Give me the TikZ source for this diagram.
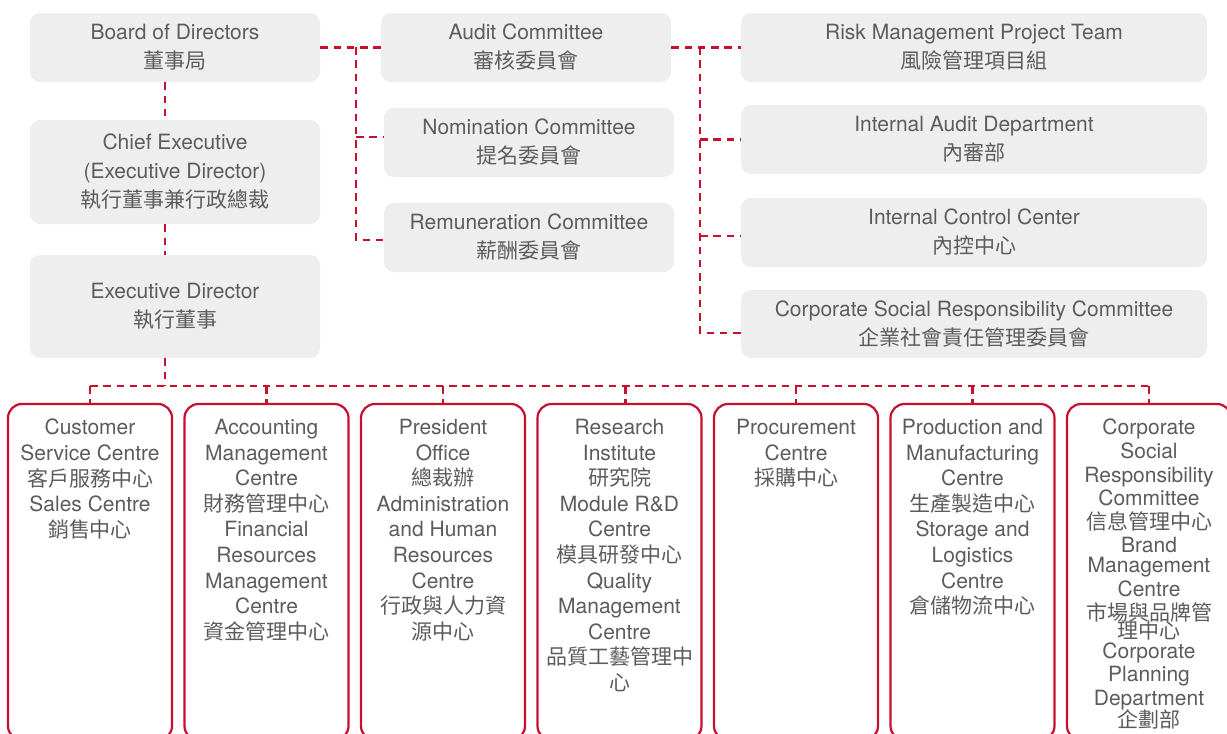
\documentclass[tikz,border=0pt]{standalone}
\usepackage{fontspec}
\setmainfont{TeX Gyre Heros}
\newfontfamily\cjk{Noto Sans CJK TC}
\newcommand\zht[1]{{\cjk #1}}
\definecolor{cred}{RGB}{200,16,46}
\definecolor{boxgray}{RGB}{238,238,238}
\definecolor{txtgray}{RGB}{92,92,92}
\tikzset{
  gbox/.style={rounded corners=10pt, fill=boxgray, draw=none, text=txtgray, align=center,
    inner sep=0pt, font=\fontsize{21}{29}\selectfont},
  rbox/.style={rounded corners=14pt, draw=cred, line width=2.2pt, fill=white,
    minimum width=164pt, minimum height=336pt, inner sep=0pt},
  btext/.style={anchor=north, text=txtgray, align=center, inner sep=0pt,
    font=\fontsize{21}{25.6}\selectfont},
  conn/.style={draw=cred, line width=2.7pt, dash pattern=on 7.5pt off 5.8pt}
}
\begin{document}
\begin{tikzpicture}[x=1pt,y=-1pt]
\useasboundingbox (0,0) rectangle (1227,734);
\fill[white] (0,0) rectangle (1227,734);

% left column
\node[gbox, minimum width=290pt, minimum height=69pt] (b) at (175,47.5) {\rule{0pt}{3pt}Board of Directors\\\zht{董事局}};
\node[gbox, minimum width=290pt, minimum height=104pt] (ce) at (175,172) {Chief Executive\\(Executive Director)\\\zht{執行董事兼行政總裁}};
\node[gbox, minimum width=290pt, minimum height=103pt] (ed) at (175,306.5) {Executive Director\\\zht{執行董事}};

% committees
\node[gbox, minimum width=290pt, minimum height=69pt] (ac) at (526,47.5) {Audit Committee\\\zht{審核委員會}};
\node[gbox, minimum width=290pt, minimum height=69pt] (nc) at (529,142.5) {Nomination Committee\\\zht{提名委員會}};
\node[gbox, minimum width=290pt, minimum height=69pt] (rc) at (529,237.5) {Remuneration Committee\\\zht{薪酬委員會}};

% right column
\node[gbox, minimum width=466pt, minimum height=69pt] (rm) at (974,47.5) {Risk Management Project Team\\\zht{風險管理項目組}};
\node[gbox, minimum width=466pt, minimum height=69pt] (ia) at (974,139.5) {Internal Audit Department\\\zht{內審部}};
\node[gbox, minimum width=466pt, minimum height=69pt] (ic) at (974,232.5) {Internal Control Center\\\zht{內控中心}};
\node[gbox, minimum width=466pt, minimum height=68pt] (csr) at (974,324) {Corporate Social Responsibility Committee\\\zht{企業社會責任管理委員會}};

% bottom departments
\node[rbox] (d1) at (90,572) {};
\node[rbox] (d2) at (266.5,572) {};
\node[rbox] (d3) at (443,572) {};
\node[rbox] (d4) at (619.5,572) {};
\node[rbox] (d5) at (796,572) {};
\node[rbox] (d6) at (972.5,572) {};
\node[rbox] (d7) at (1149,572) {};

\node[btext] (t1) at (90,419) {Customer\\Service Centre\\\zht{客戶服務中心}\\Sales Centre\\\zht{銷售中心}};
\node[btext] (t2) at (266.5,419) {Accounting\\Management\\Centre\\\zht{財務管理中心}\\Financial\\Resources\\Management\\Centre\\\zht{資金管理中心}};
\node[btext] (t3) at (443,419) {President\\Office\\\zht{總裁辦}\\Administration\\and Human\\Resources\\Centre\\\zht{行政與人力資}\\\zht{源中心}};
\node[btext] (t4) at (619.5,419) {Research\\Institute\\\zht{研究院}\\Module R\&D\\Centre\\\zht{模具研發中心}\\Quality\\Management\\Centre\\\zht{品質工藝管理中}\\\zht{心}};
\node[btext] (t5) at (796,419) {Procurement\\Centre\\\zht{採購中心}};
\node[btext] (t6) at (972.5,419) {Production and\\Manufacturing\\Centre\\\zht{生產製造中心}\\Storage and\\Logistics\\Centre\\\zht{倉儲物流中心}};
\node[btext, font=\fontsize{21}{23.6}\selectfont] (t7) at (1149,419) {Corporate\\Social\\Responsibility\\Committee\\\zht{信息管理中心}\\Brand\\[-3.5pt]Management\\Centre\\\zht{市場與品牌管}\\[-5pt]\zht{理中心}\\[-4pt]Corporate\\Planning\\Department\\[-2pt]\zht{企劃部}};

% connectors: top-left group
\coordinate (j1) at (356,47);
\draw[conn] (b.east) -- (ac.west);
\draw[conn] (j1) |- ([yshift=-2.5pt]rc.west);
\draw[conn] (j1 |- 0,137) -- ([yshift=5.5pt]nc.west);

% connectors: right group
\coordinate (j2) at (700,47);
\draw[conn] (ac.east) -- (rm.west);
\draw[conn] (j2) |- ([yshift=-9pt]csr.west);
\draw[conn] (j2 |- ia.west) -- (ia.west);
\draw[conn] (j2 |- 0,236) -- ([yshift=-3.5pt]ic.west);

% vertical chain
\draw[conn] ([xshift=-10pt]b.south) -- ([xshift=-10pt]ce.north);
\draw[conn] ([xshift=-10pt]ce.south) -- ([xshift=-10pt]ed.north);
\coordinate (bus) at (165,386);
\draw[conn] ([xshift=-10pt]ed.south) -- (bus);
\draw[conn] (d1.north |- bus) -- (d7.north |- bus);
\foreach \d in {d1,d2,d3,d5,d6,d7}{
  \draw[conn] (\d.north |- bus) -- (\d.north);
}
\draw[conn] ([xshift=6pt]d4.north |- bus) -- ([xshift=6pt]d4.north);
\end{tikzpicture}
\end{document}
